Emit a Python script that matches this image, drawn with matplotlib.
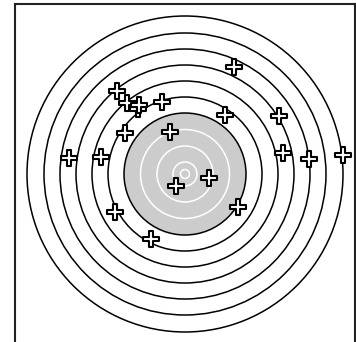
import matplotlib
matplotlib.use("Agg")
import matplotlib.pyplot as plt
from matplotlib.patches import Circle
from matplotlib.path import Path

# ring radii (target units), inner white rings sit on the gray disk
black_rings = [61, 77, 93, 109, 125, 141, 158]
white_rings = [4.5, 12, 28, 44.5]
gray_radius = 61

# shot positions
shot_x = [49, -68, -58, -47.5, -46, -23, 40, 94, -60, -15,
          -116, -84, 98, 124, 158, 24, -9, 53, -70, -34]
shot_y = [107, 83, 71, 65, 69, 72, 59, 58, 41, 42,
          16, 17, 21, 15, 19, -4, -12, -33, -38, -65]

# slimmer filled plus than the built-in 'P'
a, b = 0.14, 0.5
plus = Path([(-a, -b), (a, -b), (a, -a), (b, -a), (b, a), (a, a), (a, b),
             (-a, b), (-a, a), (-b, a), (-b, -a), (-a, -a), (-a, -b)], closed=True)

fig = plt.figure(figsize=(3.56, 3.42), dpi=100)
# square axes, bottom edge runs slightly past the figure
ax = fig.add_axes([15 / 356, 1 - 344 / 342, 340 / 356, 340 / 342])
ax.set_xlim(-170, 170)
ax.set_ylim(-170, 170)
ax.set_aspect("equal")
ax.set_xticks([])
ax.set_yticks([])
for s in ax.spines.values():
    s.set_linewidth(1.5)
    s.set_color("#222222")

ax.add_patch(Circle((0, 0), gray_radius, facecolor="#cccccc", edgecolor="none", zorder=1))
for r in white_rings:
    ax.add_patch(Circle((0, 0), r, fill=False, edgecolor="white", lw=1.1, zorder=2))
for r in black_rings:
    ax.add_patch(Circle((0, 0), r, fill=False, edgecolor="black", lw=1.1, zorder=2))

ax.plot(shot_x, shot_y, linestyle="none", marker=plus, markersize=11.5,
        markerfacecolor="white", markeredgecolor="black", markeredgewidth=1.5,
        zorder=3, clip_on=False)

fig.savefig("out.png", dpi=100)
